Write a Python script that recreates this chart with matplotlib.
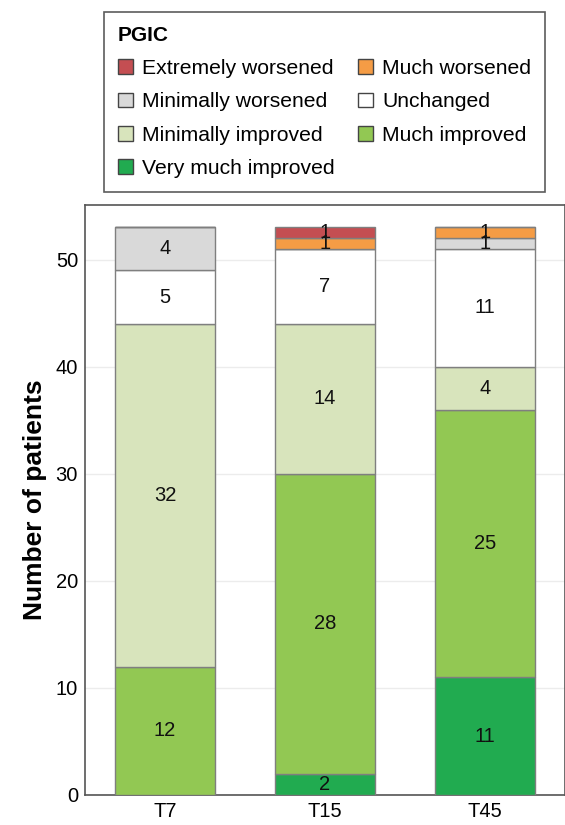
import matplotlib
matplotlib.use("Agg")
import matplotlib.pyplot as plt
import numpy as np
from matplotlib.patches import Patch

plt.rcParams['font.family'] = ['Liberation Sans', 'DejaVu Sans']

timepoints = ["T7", "T15", "T45"]
categories = ["Very much improved", "Much improved", "Minimally improved",
              "Unchanged", "Minimally worsened", "Much worsened", "Extremely worsened"]
very_much_improved = [0, 2, 11]
much_improved = [12, 28, 25]
minimally_improved = [32, 14, 4]
unchanged = [5, 7, 11]
minimally_worsened = [4, 0, 1]
much_worsened = [0, 1, 1]
extremely_worsened = [0, 1, 0]
series = [very_much_improved, much_improved, minimally_improved, unchanged,
          minimally_worsened, much_worsened, extremely_worsened]
colors = ["#21ab50", "#92c853", "#d8e4bc", "#ffffff", "#d9d9d9", "#f59c45", "#c44e52"]
yticks = [0, 10, 20, 30, 40, 50]

fig = plt.figure(figsize=(5.65, 8.25), dpi=100)
ax = fig.add_axes([85/565, 30/825, 480/565, 590/825])

x = np.arange(len(timepoints))
bottom = np.zeros(len(timepoints))
for vals, col in zip(series, colors):
    vals = np.array(vals, dtype=float)
    ax.bar(x, vals, bottom=bottom, width=0.625, color=col, edgecolor="#7f7f7f",
           linewidth=1.0, zorder=3)
    for xi, v, b in zip(x, vals, bottom):
        if v > 0:
            ax.text(xi, b + v/2, f"{int(v)}", ha="center", va="center",
                    fontsize=14.5, color="#111111", zorder=4)
    bottom += vals

ax.set_xlim(-0.5, 2.5)
ax.set_ylim(0, 55.1)
ax.set_yticks(yticks)
ax.set_yticklabels([str(t) for t in yticks], fontsize=14.5)
ax.set_xticks(x)
ax.set_xticklabels(timepoints, fontsize=14.5)
ax.tick_params(length=0, pad=5)
ax.yaxis.grid(True, color="#ececec", linewidth=1.0, zorder=0)
ax.set_axisbelow(True)
for s in ["left", "top", "bottom", "right"]:
    ax.spines[s].set_color("#555555")
    ax.spines[s].set_linewidth(1.2)
ax.set_ylabel("Number of patients", fontsize=19, fontweight="bold", labelpad=6)

legend_order = ["Extremely worsened", "Much worsened", "Minimally worsened", "Unchanged",
                "Minimally improved", "Much improved", "Very much improved"]
cmap = dict(zip(categories, colors))
handles = [Patch(facecolor=cmap[c], edgecolor="#444444", linewidth=1.0) for c in legend_order]
col1 = [0, 2, 4, 6]
col2 = [1, 3, 5]
order = col1 + col2
leg = fig.legend([handles[i] for i in order], [legend_order[i] for i in order],
                 ncol=2, loc="upper left", bbox_to_anchor=(104/565, 1 - 12/825),
                 borderaxespad=0,
                 title="PGIC", title_fontproperties={"weight": "bold", "size": 15},
                 fontsize=15.2, frameon=True, fancybox=False, edgecolor="#333333",
                 handlelength=0.7, handleheight=0.7, handletextpad=0.45,
                 columnspacing=1.1, labelspacing=0.68, borderpad=0.65)
leg._legend_box.align = "left"
leg.get_frame().set_linewidth(1.2)

fig.savefig("out.png", dpi=100)
